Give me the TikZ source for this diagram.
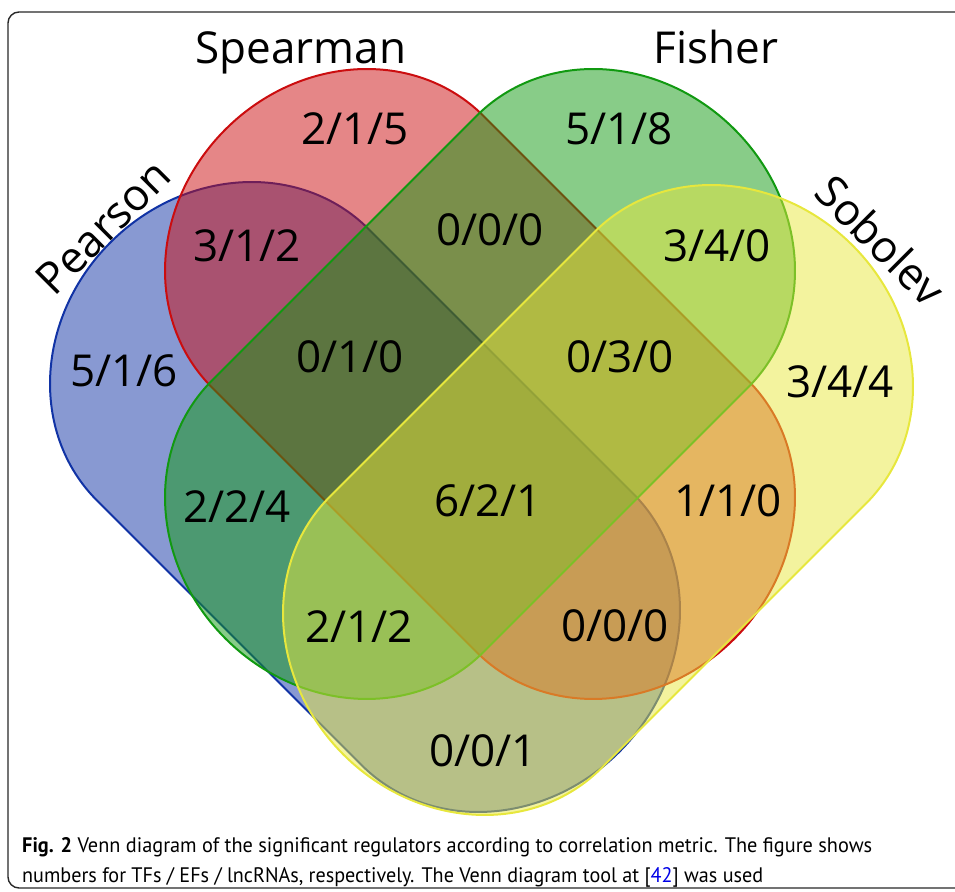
\documentclass[tikz,border=0pt]{standalone}
\usepackage{fontspec}
\usepackage{graphicx}
\setmainfont{Open Sans}
\newfontfamily\capfont{PT Sans}

\definecolor{vblue}{RGB}{17,51,165}
\definecolor{vred}{RGB}{203,13,15}
\definecolor{vgreen}{RGB}{17,153,17}
\definecolor{vyellow}{RGB}{231,231,61}
\definecolor{frameline}{RGB}{40,40,40}
\definecolor{citeblue}{RGB}{0,0,230}

% one set of the diagram: a long rounded band with half-elliptic ends
\newcommand\setband{(-187,-192) -- (187,-192)
  arc[start angle=-90, end angle=90, x radius=173, y radius=192]
  -- (-187,192)
  arc[start angle=90, end angle=270, x radius=173, y radius=192] -- cycle}

\tikzset{
  vset/.style={line width=2pt, fill opacity=0.5, draw opacity=1},
  count/.style={anchor=base, font=\fontsize{44}{44}\selectfont, inner sep=0pt},
  setname/.style={anchor=base, font=\fontsize{44}{44}\selectfont, inner sep=0pt},
  captionline/.style={anchor=base west, inner sep=0pt, font=\capfont\fontsize{21}{21}\selectfont}
}

\begin{document}
\begin{tikzpicture}[x=1pt, y=1pt]
\useasboundingbox (0,0) rectangle (955,891);

% outer frame
\draw[frameline, line width=1.4pt, rounded corners=11pt] (8,3) rectangle (985,879);

% the four sets, drawn in order
\begin{scope}[shift={(365,394)}, rotate=-45]
  \path[vset, draw=vblue, fill=vblue] \setband;
\end{scope}
\begin{scope}[shift={(480,507)}, rotate=-45]
  \path[vset, draw=vred, fill=vred] \setband;
\end{scope}
\begin{scope}[shift={(480,507)}, rotate=45]
  \path[vset, draw=vgreen, fill=vgreen] \setband;
\end{scope}
\begin{scope}[shift={(598,391)}, rotate=45]
  \path[vset, draw=vyellow, fill=vyellow] \setband;
\end{scope}

% set names
\node[setname] (spearman) at (301,827) {Spearman};
\node[setname] (fisher) at (716,827) {Fisher};
\node[setname, rotate=45] (pearson) at (114,653) {Pearson};
\node[setname, rotate=-45] (sobolev) at (869,639) {Sobolev};

% region counts (TFs / EFs / lncRNAs)
\node[count] (r1) at (355,746) {2/1/5};
\node[count] (r2) at (619,746) {5/1/8};
\node[count] (r3) at (247,629) {3/1/2};
\node[count] (r4) at (490,645) {0/0/0};
\node[count] (r5) at (717,629) {3/4/0};
\node[count] (r6) at (124,504) {5/1/6};
\node[count] (r7) at (350,518) {0/1/0};
\node[count] (r8) at (620,518) {0/3/0};
\node[count] (r9) at (840,493) {3/4/4};
\node[count] (r10) at (237,368) {2/2/4};
\node[count] (r11) at (488,374) {6/2/1};
\node[count] (r12) at (728,374) {1/1/0};
\node[count] (r13) at (359,248) {2/1/2};
\node[count] (r14) at (615,249) {0/0/0};
\node[count] (r15) at (483,124) {0/0/1};

% caption
\node[captionline] (cap1) at (22,38) {\resizebox{850pt}{\height}{\textbf{Fig. 2} Venn diagram of the significant regulators according to correlation metric. The figure shows}};
\node[captionline] (cap2) at (22,9) {\resizebox{741pt}{\height}{numbers for TFs / EFs / lncRNAs, respectively. The Venn diagram tool at [\textcolor{citeblue}{42}] was used}};
\end{tikzpicture}
\end{document}
